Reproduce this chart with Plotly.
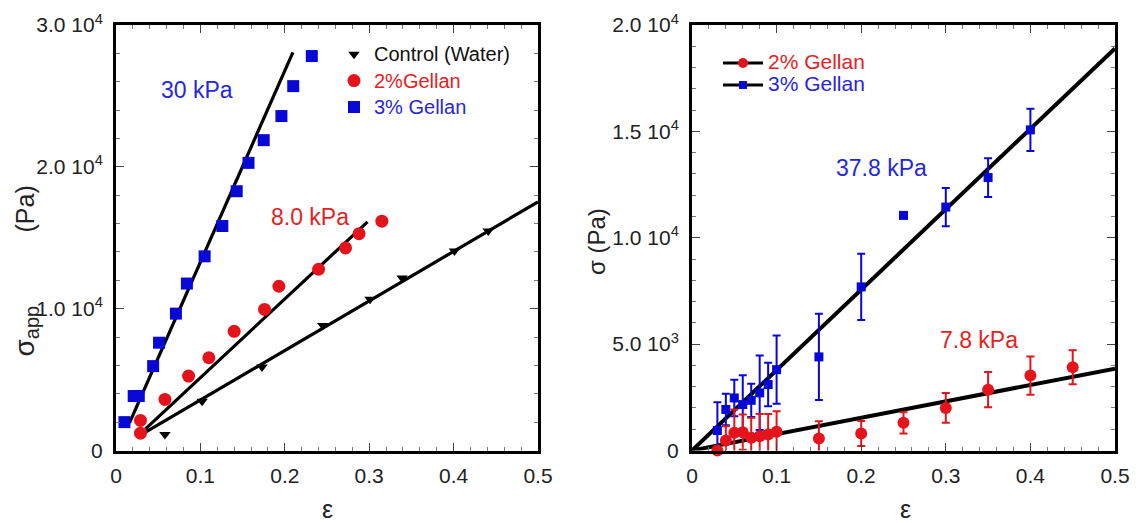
import plotly.graph_objects as go

FONT = "Liberation Sans, Arial, Helvetica, sans-serif"
BLUE = "#0707d6"
RED = "#e5141c"
BLUE_T = "#2626dc"
RED_T = "#e52222"

# ---------------- Left panel data (apparent stress vs strain) ----------------
ctrl_x = [0.058, 0.102, 0.173, 0.245, 0.301, 0.339, 0.401, 0.441]
ctrl_y = [1130, 3480, 5880, 8820, 10660, 12170, 14070, 15480]
g2_x = [0.029, 0.029, 0.058, 0.086, 0.110, 0.140, 0.176, 0.193, 0.240, 0.272, 0.288, 0.315]
g2_y = [1220, 2120, 3600, 5250, 6540, 8400, 9950, 11580, 12780, 14280, 15290, 16170]
g3_x = [0.010, 0.021, 0.027, 0.044, 0.051, 0.071, 0.084, 0.105, 0.126, 0.143, 0.157, 0.175, 0.196, 0.210, 0.232]
g3_y = [2000, 3840, 3840, 5950, 7600, 9650, 11770, 13690, 15830, 18280, 20280, 21880, 23580, 25690, 27810]

ctrl_fit_x = [0.035, 0.5]
ctrl_fit_y = [1290, 17530]
g2_fit_x = [0.035, 0.298]
g2_fit_y = [1530, 16120]
g3_fit_x = [0.016, 0.2096]
g3_fit_y = [1950, 28070]

# ---------------- Right panel data (stress vs strain with error bars) --------
strain2 = [0.03, 0.04, 0.05, 0.06, 0.07, 0.08, 0.09, 0.10, 0.15, 0.20, 0.25, 0.30, 0.35, 0.40, 0.45]
r2_y = [0, 470, 830, 860, 600, 670, 750, 880, 560, 800, 1300, 2000, 2860, 3520, 3910]
r2_err = [0, 670, 1100, 830, 940, 1050, 970, 970, 810, 590, 500, 700, 830, 900, 800]
strain3 = [0.03, 0.04, 0.05, 0.06, 0.07, 0.08, 0.09, 0.10, 0.15, 0.20, 0.25, 0.30, 0.35, 0.40]
r3_y = [940, 1930, 2470, 2160, 2360, 2710, 3100, 3800, 4400, 7690, 11050, 11440, 12830, 15070]
r3_err = [1330, 740, 860, 1380, 780, 1750, 1020, 1600, 2030, 1560, 0, 900, 910, 990]

r2_fit_x = [0.0, 0.5]
r2_fit_y = [0, 3850]
r3_fit_x = [0.0, 0.5]
r3_fit_y = [0, 18900]

# tick labels
x_ticks = [0, 0.1, 0.2, 0.3, 0.4, 0.5]
x_ticktext = ["0", "0.1", "0.2", "0.3", "0.4", "0.5"]
yl_ticks = [0, 10000, 20000, 30000]
yl_ticktext = ["0", "1.0 10<sup>4</sup>", "2.0 10<sup>4</sup>", "3.0 10<sup>4</sup>"]
yr_ticks = [0, 5000, 10000, 15000, 20000]
yr_ticktext = ["0", "5.0 10<sup>3</sup>", "1.0 10<sup>4</sup>", "1.5 10<sup>4</sup>", "2.0 10<sup>4</sup>"]

fig = go.Figure()

# ---- left panel fits
for fx, fy in [(g3_fit_x, g3_fit_y), (g2_fit_x, g2_fit_y), (ctrl_fit_x, ctrl_fit_y)]:
    fig.add_trace(go.Scatter(x=fx, y=fy, mode="lines", line=dict(color="black", width=3.2),
                             showlegend=False, hoverinfo="skip", xaxis="x", yaxis="y"))

def lname(txt, color, size):
    return '<span style="font-size:%dpx;color:%s">%s</span>' % (size, color, txt)

fig.add_trace(go.Scatter(x=ctrl_x, y=ctrl_y, mode="markers", name=lname("Control (Water)", "#111", 20),
                         marker=dict(symbol="triangle-down", size=10, color="black"),
                         legend="legend", xaxis="x", yaxis="y", cliponaxis=False))
fig.add_trace(go.Scatter(x=g2_x, y=g2_y, mode="markers", name=lname("2%Gellan", RED_T, 20),
                         marker=dict(symbol="circle", size=13, color=RED),
                         legend="legend", xaxis="x", yaxis="y", cliponaxis=False))
fig.add_trace(go.Scatter(x=g3_x, y=g3_y, mode="markers", name=lname("3% Gellan", BLUE_T, 20),
                         marker=dict(symbol="square", size=12, color=BLUE),
                         legend="legend", xaxis="x", yaxis="y", cliponaxis=False))

# ---- right panel fits
for fx, fy in [(r3_fit_x, r3_fit_y), (r2_fit_x, r2_fit_y)]:
    fig.add_trace(go.Scatter(x=fx, y=fy, mode="lines", line=dict(color="black", width=4),
                             showlegend=False, hoverinfo="skip", xaxis="x2", yaxis="y2"))

fig.add_trace(go.Scatter(x=strain3, y=r3_y, mode="markers", showlegend=False,
                         marker=dict(symbol="square", size=9, color=BLUE),
                         error_y=dict(type="data", array=r3_err, color=BLUE, thickness=2, width=4),
                         xaxis="x2", yaxis="y2", cliponaxis=False))
fig.add_trace(go.Scatter(x=strain2, y=r2_y, mode="markers", showlegend=False,
                         marker=dict(symbol="circle", size=12, color=RED),
                         error_y=dict(type="data", array=r2_err, color=RED, thickness=2, width=4),
                         xaxis="x2", yaxis="y2", cliponaxis=False))

# right legend entries (line + marker keys)
fig.add_trace(go.Scatter(x=[None], y=[None], mode="lines+markers", name=lname("2% Gellan", RED_T, 21),
                         line=dict(color="black", width=3), marker=dict(symbol="circle", size=10, color=RED),
                         legend="legend2", xaxis="x2", yaxis="y2"))
fig.add_trace(go.Scatter(x=[None], y=[None], mode="lines+markers", name=lname("3% Gellan", BLUE_T, 21),
                         line=dict(color="black", width=3), marker=dict(symbol="square", size=8, color=BLUE),
                         legend="legend2", xaxis="x2", yaxis="y2"))

W, H = 1140, 523
def px(v):
    return v / W
def py(v):
    return 1 - v / H

ydom = [py(450.5), py(25)]

def xaxis(dom):
    return dict(domain=dom, range=[0, 0.5], tickvals=x_ticks, ticktext=x_ticktext,
                ticks="inside", ticklen=8, tickwidth=1, tickcolor="#444",
                minor=dict(dtick=0.02, tick0=0, ticks="inside", ticklen=4, tickwidth=1, tickcolor="#777"),
                showline=True, linewidth=3, linecolor="black", mirror="ticks",
                showgrid=False, zeroline=False, automargin=False,
                tickfont=dict(family=FONT, size=21, color="#222"), ticklabelstandoff=4)

def yaxis(rng, tv, tt, mdt, anchor):
    return dict(domain=ydom, range=rng, tickvals=tv, ticktext=tt, anchor=anchor,
                ticks="inside", ticklen=8, tickwidth=1, tickcolor="#444",
                minor=dict(dtick=mdt, tick0=0, ticks="inside", ticklen=4, tickwidth=1, tickcolor="#777"),
                showline=True, linewidth=3, linecolor="black", mirror="ticks",
                showgrid=False, zeroline=False, automargin=False,
                tickfont=dict(family=FONT, size=21, color="#222"), ticklabelstandoff=6)

fig.update_layout(
    width=W, height=H, autosize=False,
    margin=dict(l=0, r=0, t=0, b=0),
    paper_bgcolor="white", plot_bgcolor="white",
    font=dict(family=FONT, color="#222"),
    xaxis=dict(xaxis([px(116), px(538)]), anchor="y"),
    yaxis=yaxis([0, 30000], yl_ticks, yl_ticktext, 2000, "x"),
    xaxis2=dict(xaxis([px(692), px(1115)]), anchor="y2"),
    yaxis2=yaxis([0, 20000], yr_ticks, yr_ticktext, 1000, "x2"),
    legend=dict(x=px(334), y=py(36), xanchor="left", yanchor="top", bgcolor="rgba(0,0,0,0)",
                borderwidth=0, font=dict(family=FONT, size=18), itemwidth=30, traceorder="normal"),
    legend2=dict(x=px(718), y=py(47), xanchor="left", yanchor="top", bgcolor="rgba(0,0,0,0)",
                 borderwidth=0, font=dict(family=FONT, size=14.6), itemwidth=40, traceorder="normal"),
    showlegend=True,
)

ylab_left = ('<span style="font-size:28px">σ</span><sub><span style="font-size:20px">app</span></sub>'
             + "&nbsp;" * 11 + '<span style="font-size:25px">(Pa)</span>')

ann = [
    dict(text="30 kPa", x=0.096, y=25400, xref="x", yref="y", font=dict(size=23, color=BLUE_T)),
    dict(text="8.0 kPa", x=0.230, y=16450, xref="x", yref="y", font=dict(size=23, color=RED_T)),
    dict(text="37.8 kPa", x=0.2235, y=13300, xref="x2", yref="y2", font=dict(size=23, color=BLUE_T)),
    dict(text="7.8 kPa", x=0.339, y=5200, xref="x2", yref="y2", font=dict(size=23, color=RED_T)),
    dict(text="ε", x=px(327), y=py(509), xref="paper", yref="paper", font=dict(size=25, color="#222")),
    dict(text="ε", x=px(905), y=py(509), xref="paper", yref="paper", font=dict(size=25, color="#222")),
    dict(text=ylab_left, x=px(25), y=py(271.5), xref="paper", yref="paper", textangle=-90,
         font=dict(size=24, color="#222")),
    dict(text="σ (Pa)", x=px(596), y=py(242), xref="paper", yref="paper", textangle=-90,
         font=dict(size=24, color="#222")),
]
for a in ann:
    a.setdefault("showarrow", False)
    a["xanchor"] = "center"
    a["yanchor"] = "middle"
    a["font"]["family"] = FONT
    fig.add_annotation(**a)

fig.write_html("out.html")
